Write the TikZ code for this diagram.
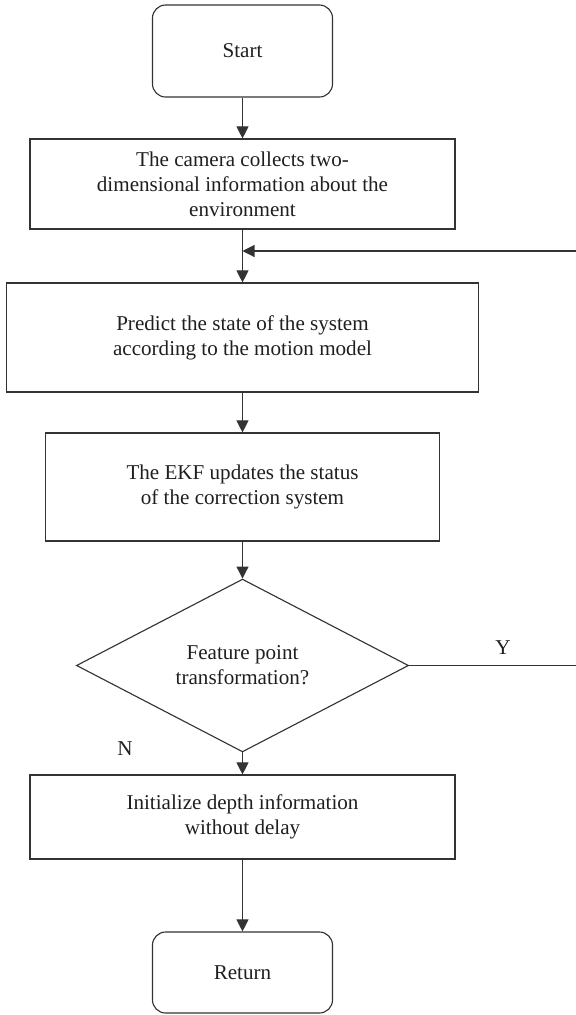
\documentclass[tikz,border=0pt]{standalone}
\usepackage{fontspec}
\setmainfont{Liberation Serif}
\usetikzlibrary{arrows.meta,shapes.geometric}
\definecolor{flowline}{gray}{0.2}
\definecolor{flowtext}{gray}{0.12}

\begin{document}
\begin{tikzpicture}[x=0.025cm,y=-0.025cm,
    every node/.style={font=\fontsize{15}{17.8}\selectfont, text=flowtext, align=center, inner sep=0pt},
    stepbox/.style={draw=flowline, line width=.8pt, rectangle},
    termbox/.style={stepbox, rounded corners=0.33cm, minimum width=4.5cm},
    decbox/.style={draw=flowline, line width=.8pt, diamond, minimum width=8.3cm, minimum height=3.425cm},
    flow/.style={draw=flowline, line width=.8pt, -{Triangle[length=0.3cm,width=0.3cm]}}]

    \useasboundingbox (0,0) rectangle (576,1015);

    \node [termbox, minimum height=2.3cm] (start) at (242.5,51) {Start};
    \node [stepbox, minimum width=10.625cm, minimum height=2.25cm] (cam) at (242.5,184)
      {The camera collects two-\\dimensional information about the\\environment};
    \node [stepbox, minimum width=11.8cm, minimum height=2.725cm] (pred) at (242.5,337.5)
      {Predict the state of the system\\according to the motion model};
    \node [stepbox, minimum width=9.85cm, minimum height=2.7cm] (ekf) at (242.5,487)
      {The EKF updates the status\\of the correction system};
    \node [decbox] (dec) at (242.5,665.5) {Feature point\\transformation?};
    \node [stepbox, minimum width=10.625cm, minimum height=2.1cm] (init) at (242.5,817)
      {Initialize depth information\\without delay};
    \node [termbox, minimum height=2.025cm] (ret) at (242.5,972.5) {Return};

    \node (ylab) at (503,648) {Y};
    \node (nlab) at (125,749) {N};

    % loop back from the decision, along the right edge
    \coordinate (yend) at (579,665.5);
    \coordinate (fbk) at (579,251);
    \coordinate (join) at (242.5,251);

    \draw [flow] (start) -- (cam);
    \draw [flow] (cam) -- (pred);
    \draw [flow] (pred) -- (ekf);
    \draw [flow] (ekf) -- (dec);
    \draw [flow] (dec) -- (init);
    \draw [flow] (init) -- (ret);
    \draw [flow] (dec.east) -- (yend) -- (fbk) -- (join);
\end{tikzpicture}
\end{document}
